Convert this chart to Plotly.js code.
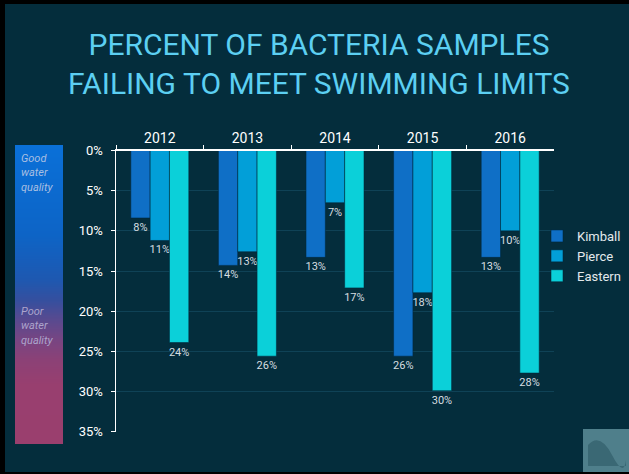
<!DOCTYPE html>
<html>
<head>
<meta charset="utf-8">
<script src="https://cdn.plot.ly/plotly-3.0.1.min.js"></script>
<style>html,body{margin:0;padding:0;background:#000;}#chart{width:629px;height:474px;}</style>
</head>
<body>
<div id="chart"></div>
<script>
// ---- data ----
const years = ['2012', '2013', '2014', '2015', '2016'];
const seriesNames = ['Kimball', 'Pierce', 'Eastern'];
const kimball = [8.4, 14.3, 13.3, 25.6, 13.3];
const pierce = [11.2, 12.6, 6.5, 17.7, 10.0];
const eastern = [23.9, 25.6, 17.1, 29.9, 27.7];
const seriesColors = ['#0f6fc6', '#029fd8', '#0bd0d9'];
const yTickValues = [0, 5, 10, 15, 20, 25, 30, 35];
const yTickLabels = ['0%', '5%', '10%', '15%', '20%', '25%', '30%', '35%'];
// quality gradient (top = good, bottom = poor)
const gradientPos = [0, 0.3, 0.45, 0.52, 0.58, 0.65, 0.72, 0.8, 1];
const gradientColors = ['#0a70d8', '#0d64c6', '#1e58b0', '#364f9e', '#574a90', '#774582', '#8c4176', '#983f6f', '#9a3f6e'];
const gradientZ = [[0, 0], [1, 1]];
const gradientAxis = [0, 1];

const seriesValues = [kimball, pierce, eastern];
const fontFam = 'Roboto, "Open Sans", sans-serif';

const traces = seriesNames.map((name, i) => ({
  type: 'bar',
  name: name,
  x: years,
  y: seriesValues[i],
  marker: {color: seriesColors[i], line: {color: 'rgba(0,40,60,0.55)', width: 1}},
  texttemplate: '%{y:.0f}%',
  textposition: 'outside',
  constraintext: 'none',
  cliponaxis: false,
  textfont: {family: fontFam, size: 11, color: '#d6dde0'},
  hoverinfo: 'skip'
}));

traces.push({
  type: 'heatmap',
  x: gradientAxis,
  y: gradientAxis,
  z: gradientZ,
  zsmooth: 'best',
  zmin: 0, zmax: 1,
  colorscale: gradientPos.map((p, i) => [p, gradientColors[i]]),
  showscale: false,
  showlegend: false,
  hoverinfo: 'skip',
  xaxis: 'x2',
  yaxis: 'y2'
});

const W = 629, H = 474;
const px = v => v / W;
const py = v => 1 - v / H;

const layout = {
  width: W, height: H,
  margin: {l: 0, r: 0, t: 0, b: 0, pad: 0},
  paper_bgcolor: '#042d3c',
  plot_bgcolor: 'rgba(0,0,0,0)',
  barmode: 'group',
  bargap: 0.338,
  bargroupgap: 0,
  title: {
    text: 'PERCENT OF BACTERIA SAMPLES<br>FAILING TO MEET SWIMMING LIMITS',
    font: {family: fontFam, size: 30, weight: 'normal', color: '#5ccff2'},
    x: px(319), xanchor: 'center',
    y: py(55), yanchor: 'top', yref: 'container'
  },
  xaxis: {
    type: 'category',
    domain: [px(116), px(554)],
    side: 'top',
    showline: true, linecolor: '#ffffff', linewidth: 1.5,
    ticks: 'outside', tickson: 'boundaries', ticklen: 4, tickcolor: '#ffffff', tickwidth: 1,
    tickfont: {family: fontFam, size: 14, color: '#ffffff'},
    showgrid: false, zeroline: false, fixedrange: true
  },
  yaxis: {
    domain: [py(431.7), py(150.5)],
    range: [35, 0],
    tickvals: yTickValues,
    ticktext: yTickLabels,
    showline: true, linecolor: '#ffffff', linewidth: 1.5,
    ticks: 'outside', ticklen: 4, tickcolor: '#ffffff',
    ticklabelstandoff: 5,
    tickfont: {family: fontFam, size: 13, color: '#ffffff'},
    showgrid: true, gridcolor: '#0f4256', gridwidth: 1,
    zeroline: false, fixedrange: true
  },
  xaxis2: {domain: [px(15), px(63)], range: [0, 1], visible: false, anchor: 'y2', fixedrange: true},
  yaxis2: {domain: [py(444), py(145)], range: [1, 0], visible: false, anchor: 'x2', fixedrange: true},
  legend: {
    x: px(537), xanchor: 'left',
    y: py(221), yanchor: 'top',
    bgcolor: 'rgba(0,0,0,0)',
    font: {family: fontFam, size: 13, color: '#e3e9ec'},
    itemwidth: 30,
    traceorder: 'normal'
  },
  annotations: [
    {text: 'Good<br>water<br>quality', xref: 'paper', yref: 'paper', x: px(19), y: py(173),
     xanchor: 'left', yanchor: 'middle', align: 'left', showarrow: false,
     font: {family: fontFam, size: 11, style: 'italic', color: '#a9bfe2'}},
    {text: 'Poor<br>water<br>quality', xref: 'paper', yref: 'paper', x: px(19), y: py(326),
     xanchor: 'left', yanchor: 'middle', align: 'left', showarrow: false,
     font: {family: fontFam, size: 11, style: 'italic', color: '#aca4cc'}}
  ],
  shapes: [
    {type: 'rect', xref: 'paper', yref: 'paper', x0: 0, x1: px(5), y0: 0, y1: 1, fillcolor: '#000', line: {width: 0}},
    {type: 'rect', xref: 'paper', yref: 'paper', x0: 0, x1: 1, y0: py(4), y1: 1, fillcolor: '#000', line: {width: 0}},
    {type: 'rect', xref: 'paper', yref: 'paper', x0: 0, x1: 1, y0: 0, y1: py(472), fillcolor: '#000', line: {width: 0}},
    {type: 'rect', xref: 'paper', yref: 'paper', x0: px(583), x1: 1, y0: py(472), y1: py(429), fillcolor: '#4f7f8b', line: {width: 0}},
    {type: 'path', xref: 'paper', yref: 'paper',
     path: 'M ' + px(588) + ',' + py(445) + ' Q ' + px(600) + ',' + py(432) + ' ' + px(612) + ',' + py(455) + ' T ' + px(626) + ',' + py(460) + ' L ' + px(626) + ',' + py(466) + ' L ' + px(588) + ',' + py(466) + ' Z',
     fillcolor: '#3a6874', line: {width: 0}}
  ]
};

Plotly.newPlot('chart', traces, layout, {displayModeBar: false, staticPlot: true});
</script>
</body>
</html>
